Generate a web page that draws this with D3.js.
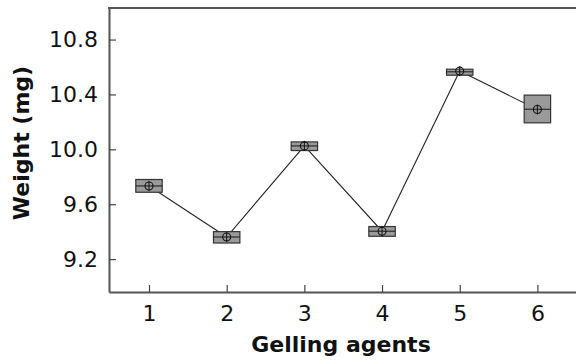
<!DOCTYPE html>
<html><head><meta charset="utf-8">
<script src="https://cdn.jsdelivr.net/npm/d3@7"></script>
<style>body{margin:0;background:#fff}svg{display:block}</style>
</head><body>
<script>
const groups = [1, 2, 3, 4, 5, 6];
const q1 = [9.687, 9.317, 9.991, 9.366, 10.540, 10.193];
const median = [9.733, 9.361, 10.025, 9.403, 10.565, 10.292];
const q3 = [9.780, 9.400, 10.054, 9.437, 10.584, 10.395];
const means = [9.733, 9.361, 10.025, 9.403, 10.570, 10.290];
const yTicks = [9.2, 9.6, 10.0, 10.4, 10.8];

const W = 576, H = 364;
const svg = d3.select("body").append("svg").attr("width", W).attr("height", H);
const x = d3.scaleLinear().domain([0.485, 6.6]).range([109, 584]);
const y = d3.scaleLinear().domain([8.96, 11.03]).range([292, 8]);
const font = "'DejaVu Sans', Verdana, sans-serif";

// axes
const yAxis = svg.append("g").attr("transform", `translate(${x.range()[0]},0)`)
  .call(d3.axisLeft(y).tickValues(yTicks).tickFormat(d3.format(".1f")).tickSizeInner(-7).tickSizeOuter(0).tickPadding(11));
const xAxis = svg.append("g").attr("transform", `translate(0,${y.range()[0]})`)
  .call(d3.axisBottom(x).tickValues(groups).tickFormat(d3.format("d")).tickSizeInner(-7).tickSizeOuter(0).tickPadding(13));
[yAxis, xAxis].forEach(g => {
  g.select(".domain").attr("stroke", "#555").attr("stroke-width", 2);
  g.selectAll(".tick line").attr("stroke", "#444").attr("stroke-width", 1.2);
  g.selectAll(".tick text").attr("font-family", font).attr("font-size", 22).attr("fill", "#111");
});
xAxis.selectAll(".tick text").attr("dy", "0.71em");
// top frame line
svg.append("line").attr("x1", x.range()[0]-1).attr("x2", W).attr("y1", y.range()[1]).attr("y2", y.range()[1])
  .attr("stroke", "#555").attr("stroke-width", 2);

// connecting line of means
svg.append("path").datum(groups.map((g, i) => [g, means[i]]))
  .attr("d", d3.line().x(d => x(d[0])).y(d => y(d[1])))
  .attr("fill", "none").attr("stroke", "#222").attr("stroke-width", 1.1);

const hw = 0.17;
const boxes = svg.append("g").selectAll("g").data(groups).join("g");
boxes.append("rect")
  .attr("x", d => x(d - hw)).attr("width", d => x(d + hw) - x(d - hw))
  .attr("y", (d, i) => y(q3[i])).attr("height", (d, i) => y(q1[i]) - y(q3[i]))
  .attr("fill", "#9a9a9a").attr("stroke", "#333").attr("stroke-width", 1.2);
boxes.append("line")
  .attr("x1", d => x(d - hw)).attr("x2", d => x(d + hw))
  .attr("y1", (d, i) => y(median[i])).attr("y2", (d, i) => y(median[i]))
  .attr("stroke", "#222").attr("stroke-width", 1.1);
// mean markers: circle with crosshair
boxes.append("circle")
  .attr("cx", d => x(d)).attr("cy", (d, i) => y(means[i])).attr("r", 4)
  .attr("fill", "none").attr("stroke", "#111").attr("stroke-width", 1.1);
boxes.append("line")
  .attr("x1", d => x(d)).attr("x2", d => x(d))
  .attr("y1", (d, i) => y(means[i]) - 5).attr("y2", (d, i) => y(means[i]) + 5)
  .attr("stroke", "#111").attr("stroke-width", 1);

// axis titles
svg.append("text").attr("x", 341).attr("y", 352).attr("text-anchor", "middle")
  .attr("font-family", font).attr("font-size", 22).attr("font-weight", "bold").attr("fill", "#111")
  .text("Gelling agents");
svg.append("text").attr("transform", "translate(29,143) rotate(-90)").attr("text-anchor", "middle")
  .attr("font-family", font).attr("font-size", 22).attr("font-weight", "bold").attr("fill", "#111")
  .text("Weight (mg)");
</script>
</body></html>
